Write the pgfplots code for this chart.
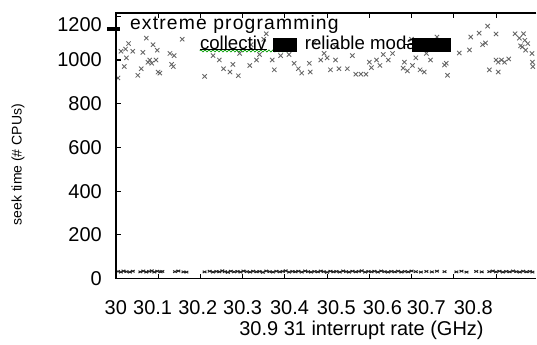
\documentclass[border=0pt]{standalone}
\usepackage{fontspec}
\setmainfont{Liberation Sans}
\usepackage{pgfplots}
\pgfplotsset{compat=1.18}
\usetikzlibrary{decorations.pathmorphing}

\pgfplotstableread{
x y
30.005 918
30.012 1040
30.023 1050
30.030 1075
30.025 1010
30.020 970
30.040 1040
30.052 930
30.060 960
30.064 1035
30.072 1100
30.076 990
30.080 1000
30.085 985
30.088 1070
30.095 1000
30.100 945
30.104 940
30.098 1045
30.128 1030
30.132 980
30.136 970
30.138 1020
30.157 1095
30.210 925
30.230 1020
30.245 1000
30.255 960
30.270 945
30.277 980
30.290 928
30.293 1030
30.317 975
30.320 1070
30.333 1000
30.340 1025
30.350 1095
30.356 1120
30.370 1000
30.375 955
30.390 1020
30.410 1025
30.420 1060
30.422 985
30.432 960
30.440 940
30.460 945
30.458 985
30.470 1080
30.485 1000
30.493 1030
30.500 1010
30.508 955
30.520 1000
30.520 1060
30.528 960
30.548 960
30.560 1020
30.568 935
30.580 935
30.592 935
30.600 990
30.605 965
30.617 1000
30.625 975
30.633 1025
30.645 1000
30.655 1030
30.683 990
30.680 963
30.690 950
30.702 975
30.700 1095
30.710 1010
30.720 955
30.730 945
30.735 1030
30.745 1000
30.760 1105
30.778 977
30.782 985
30.785 930
30.813 1032
30.837 1046
30.840 1105
30.860 1123
30.880 1155
30.875 1078
30.868 1070
30.900 1119
30.900 1000
30.905 990
30.913 1000
30.920 990
30.930 1005
30.884 955
30.905 945
30.945 1120
30.955 1100
30.965 1120
30.968 1090
30.962 1060
30.970 1045
30.975 1075
30.958 1065
30.985 1030
30.986 990
30.987 970
}\upperdata

\pgfplotstableread{
x y
30.005 33
30.012 30
30.018 35
30.025 32
30.033 30
30.040 34
30.058 31
30.065 35
30.072 30
30.079 33
30.085 36
30.091 30
30.098 34
30.106 31
30.110 33
30.140 32
30.148 35
30.160 31
30.167 30
30.210 31
30.222 34
30.230 30
30.238 33
30.245 31
30.252 36
30.258 32
30.265 29
30.272 34
30.280 31
30.288 33
30.295 30
30.302 35
30.310 32
30.318 30
30.325 34
30.333 31
30.340 33
30.348 29
30.356 35
30.364 32
30.372 30
30.380 34
30.388 31
30.395 33
30.402 36
30.410 30
30.418 33
30.425 31
30.432 34
30.440 30
30.448 35
30.455 32
30.462 30
30.470 33
30.478 31
30.485 35
30.492 32
30.500 29
30.508 34
30.515 31
30.522 33
30.530 30
30.538 35
30.545 32
30.552 30
30.560 34
30.568 31
30.575 33
30.582 36
30.590 30
30.598 33
30.605 31
30.612 34
30.620 30
30.628 35
30.636 32
30.644 30
30.652 33
30.660 31
30.668 34
30.676 30
30.684 33
30.692 31
30.700 35
30.710 32
30.722 30
30.735 33
30.748 31
30.760 34
30.778 32
30.806 31
30.818 34
30.830 30
30.853 33
30.866 31
30.884 32
30.892 35
30.900 31
30.908 34
30.916 30
30.924 33
30.932 31
30.940 35
30.948 32
30.956 30
30.964 34
30.972 31
30.980 33
30.986 30
}\lowerdata

\begin{document}
\begin{tikzpicture}
\path (-87pt,-44.25pt) rectangle (315.75pt,209.25pt);
\begin{axis}[
  scale only axis, width=315.75pt, height=199.5pt,
  at={(0,0)}, anchor=south west,
  xmin=30, xmax=30.9953, ymin=0, ymax=1215,
  axis x line*=bottom, axis y line*=left,
  axis line style={black, line width=1pt, -},
  tick align=inside, major tick length=3.5pt,
  tick style={black, line width=0.8pt},
  /pgf/number format/assume math mode=true,
  /pgf/number format/1000 sep={},
  ticklabel style={font=\fontsize{15}{18}\selectfont},
  xtick={30.1,30.2,30.3,30.4,30.5,30.6,30.7,30.8,30.9},
  xticklabels={},
  extra x ticks={30,30.087,30.194,30.300,30.411,30.522,30.631,30.735,30.846},
  extra x tick labels={30,30.1,30.2,30.3,30.4,30.5,30.6,30.7,30.8},
  extra x tick style={major tick length=0pt},
  xticklabel style={yshift=-13pt},
  ytick={0,200,400,600,800,1000},
  extra y ticks={1200},
  extra y tick style={yticklabel style={yshift=-6.5pt}},
  yticklabel style={xshift=-7pt},
  xlabel={30.9 31 interrupt rate (GHz)},
  xlabel style={at={(axis description cs:0.5842,0)}, anchor=center, yshift=-39pt, font=\fontsize{15}{18}\selectfont},
  ylabel={seek time (\# CPUs)},
  ylabel style={at={(axis description cs:-0.2327,0.4286)}, anchor=center, font=\fontsize{10.5}{12}\selectfont},
]
\addplot[only marks, mark=x, mark size=2.3pt, mark options={draw=black!60, line width=0.65pt}] table[x=x,y=y] {\upperdata};
\addplot[only marks, mark=x, mark size=2pt, mark options={draw=black!85, line width=0.75pt, yscale=0.6}] table[x=x,y=y] {\lowerdata};
\end{axis}
% frame and inward ticks (box of the axis)
\draw[black, line width=1pt] (315.75pt,199.5pt) -- (0pt,199.5pt) -- (0pt,0pt) -- (315.75pt,0pt);
\foreach \k in {1,...,9} {
  \draw[black, line width=0.8pt] (\k*31.724pt,0pt) -- ++(0pt,3.5pt);
  \draw[black, line width=0.8pt] (\k*31.724pt,199.5pt) -- ++(0pt,-3.5pt);
}
\foreach \k in {1,...,6} {
  \draw[black, line width=0.8pt] (0pt,\k*32.84pt) -- ++(3.5pt,0pt);
}
% legend
\draw[black, line width=2.4pt] (-6.75pt,187.5pt) -- (3pt,187.5pt);
\node[anchor=west, inner sep=0pt, font=\fontsize{14.5}{16}\selectfont\addfontfeatures{LetterSpace=6}] at (10.5pt,190.5pt) {extreme programming};
\draw[green!60!black, line width=0.5pt, decorate, decoration={snake, amplitude=0.8pt, segment length=3pt}] (63pt,171pt) -- (130.5pt,171pt);
\draw[black, line width=0.5pt] (63pt,172.5pt) -- (113.25pt,172.5pt);
\node[anchor=west, inner sep=0pt, font=\fontsize{14}{16}\selectfont] at (63pt,177pt) {collectiv};
\fill[black] (117.75pt,170.25pt) rectangle (135.75pt,180.75pt);
\node[anchor=west, inner sep=0pt, font=\fontsize{14}{16}\selectfont] at (141.75pt,177pt) {reliable moda};
\draw[black, line width=0.8pt] (216.75pt,175.5pt) -- (222.75pt,175.5pt);
\fill[black] (222.75pt,170.25pt) rectangle (252pt,180.75pt);
\end{tikzpicture}
\end{document}
